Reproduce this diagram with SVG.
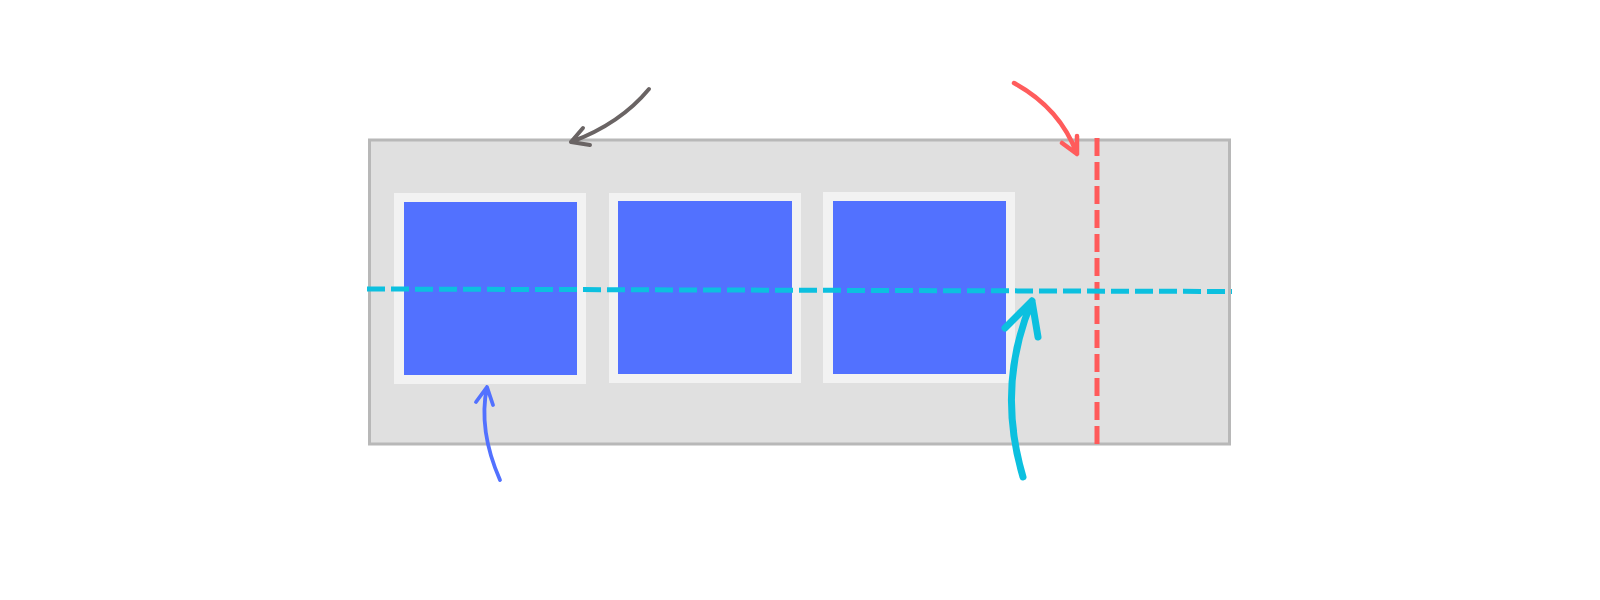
<svg xmlns="http://www.w3.org/2000/svg" width="1600" height="600" viewBox="0 0 1600 600">
<style>
.outer{fill:#f2f2f2}
.inner{fill:#5271ff}
.arrow{fill:none;stroke-linecap:round;stroke-linejoin:round}
.guide{fill:none;stroke-width:5;stroke-dasharray:18 6}
</style>
<rect width="1600" height="600" fill="#ffffff"/>
<g id="container">
<rect x="369.5" y="140" width="860" height="304" fill="#e0e0e0" stroke="#b8b8b8" stroke-width="3"/>
</g>
<g id="box1">
<rect class="outer" x="394" y="193" width="192" height="191"/>
<rect class="inner" x="404" y="202" width="173" height="173"/>
</g>
<g id="box2">
<rect class="outer" x="609" y="193" width="192" height="190"/>
<rect class="inner" x="618" y="201" width="174" height="173"/>
</g>
<g id="box3">
<rect class="outer" x="823" y="192" width="192" height="191"/>
<rect class="inner" x="833" y="201" width="173" height="173"/>
</g>
<g id="connectors">
<line class="guide" x1="1097" y1="138" x2="1097" y2="444" stroke="#ff5a5a"/>
<line class="guide" x1="367" y1="289" x2="1232" y2="291.5" stroke="#0cc0df"/>
<path class="arrow" stroke="#6a6464" stroke-width="4" d="M649,89 Q620,124 571,142 M583,128 L571,142 L590,145"/>
<path class="arrow" stroke="#ff5c5c" stroke-width="4.5" d="M1014,83 Q1060,108 1077,154 M1062,143 L1077,154 L1077,136"/>
<path class="arrow" stroke="#0cc0df" stroke-width="7" d="M1023,477 Q996,386 1032,301 M1005,328 L1032,301 L1038,337"/>
<path class="arrow" stroke="#5271ff" stroke-width="3.8" d="M500,480 Q478,430 487,387 M476,402 L487,387 L493,405"/>
</g>
</svg>
